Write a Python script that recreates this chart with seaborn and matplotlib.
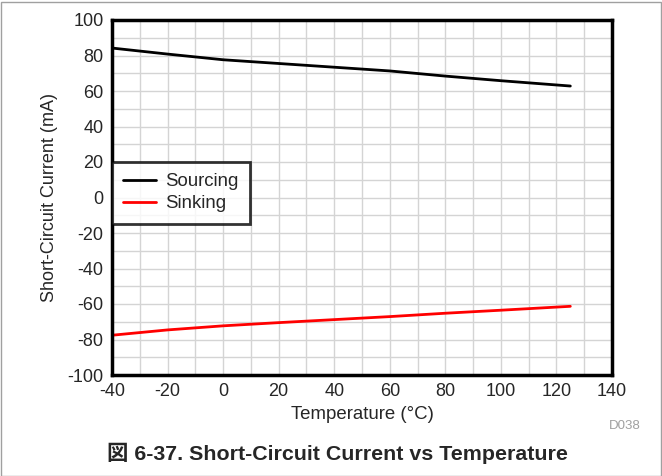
import matplotlib
matplotlib.use("Agg")
import matplotlib.pyplot as plt
import seaborn as sns
import pandas as pd
from matplotlib.ticker import MultipleLocator
from matplotlib.patches import Rectangle

temperature = [-40, -20, 0, 20, 40, 60, 80, 100, 125]
sourcing = [84.2, 80.8, 77.6, 75.5, 73.4, 71.3, 68.4, 65.8, 62.8]
sinking = [-77.6, -74.6, -72.3, -70.5, -68.8, -67.1, -65.2, -63.5, -61.3]
series_names = ["Sourcing", "Sinking"]
colors = ["#000000", "#ff0000"]

df = pd.DataFrame({
    "Temperature": temperature * 2,
    "Current": sourcing + sinking,
    "Series": [series_names[0]] * len(temperature) + [series_names[1]] * len(temperature),
})

sns.set_style("white")
plt.rcParams["font.family"] = ["Liberation Sans", "Noto Sans CJK JP", "DejaVu Sans"]
plt.rcParams["axes.unicode_minus"] = False

fig = plt.figure(figsize=(6.62, 4.76), dpi=100)
ax = fig.add_axes([112 / 662, 1 - 375 / 476, 500 / 662, 355 / 476])

sns.lineplot(data=df, x="Temperature", y="Current", hue="Series",
             palette=colors, linewidth=2, ax=ax, legend=True)

ax.set_xlim(-40, 140)
ax.set_ylim(-100, 100)
ax.xaxis.set_major_locator(MultipleLocator(20))
ax.xaxis.set_minor_locator(MultipleLocator(10))
ax.yaxis.set_major_locator(MultipleLocator(20))
ax.yaxis.set_minor_locator(MultipleLocator(10))
ax.grid(True, which="both", color="#d4d4d4", linewidth=1)
ax.set_axisbelow(True)
for s in ax.spines.values():
    s.set_visible(True)
    s.set_color("black")
    s.set_linewidth(2.5)
ax.tick_params(axis="both", which="both", length=0, labelsize=13, pad=6)
ax.set_xlabel("Temperature (°C)", fontsize=13.4, labelpad=4)
ax.set_ylabel("Short-Circuit Current (mA)", fontsize=13, labelpad=7)

leg = ax.legend(loc="upper left", bbox_to_anchor=(0.0, 0.6), fontsize=13.4,
                frameon=True, fancybox=False, edgecolor="black",
                borderpad=0.6, handlelength=1.75, handletextpad=0.5,
                labelspacing=0.28, borderaxespad=0)
leg.get_frame().set_linewidth(2)
leg.get_frame().set_facecolor("white")

fig.text(625 / 662, 1 - 426 / 476, "D038", fontsize=9.5, color="#a0a0a0",
         ha="center", va="center")
fig.text(337 / 662, 1 - 453 / 476, "図 6-37. Short-Circuit Current vs Temperature",
         fontsize=15.4, fontweight="bold", ha="center", va="center")

fig.patches.append(Rectangle((0.5 / 662, 0.5 / 476), 660 / 662, 474 / 476,
                             transform=fig.transFigure, fill=False,
                             edgecolor="#a0a0a0", linewidth=1))

fig.savefig("out.png", dpi=100)
